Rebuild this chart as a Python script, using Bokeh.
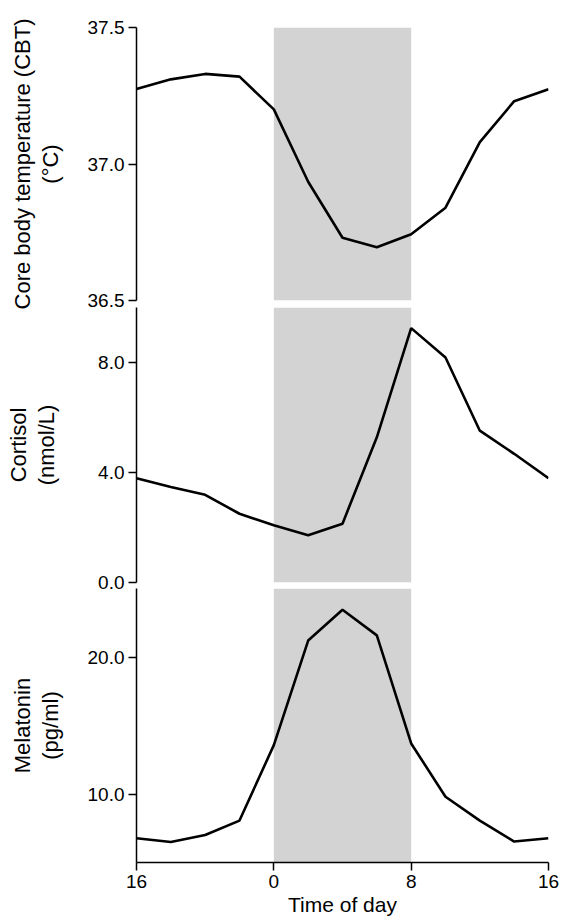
from bokeh.plotting import figure
from bokeh.layouts import column
from bokeh.models import Range1d, FixedTicker, BoxAnnotation
from bokeh.embed import file_html
from bokeh.resources import INLINE

# ---- data ----
hours = [16, 18, 20, 22, 24, 26, 28, 30, 32, 34, 36, 38, 40]
cbt = [37.275, 37.31, 37.33, 37.32, 37.20, 36.935, 36.73, 36.695, 36.743, 36.84, 37.08, 37.23, 37.274]
cortisol = [3.79, 3.47, 3.19, 2.50, 2.08, 1.72, 2.14, 5.28, 9.25, 8.18, 5.52, 4.68, 3.79]
melatonin = [6.77, 6.5, 7.01, 8.06, 13.57, 21.2, 23.45, 21.58, 13.69, 9.8, 8.06, 6.53, 6.77]
x_ticks = [16, 24, 32, 40]
x_tick_labels = ["16", "0", "8", "16"]
night_start, night_end = 24, 32

cbt_ticks = [36.5, 37.0, 37.5]
cortisol_ticks = [0.0, 4.0, 8.0]
melatonin_ticks = [10.0, 20.0]

FONT = "Liberation Sans"
W = 561
LEFT = 136
FRAME_W = 412


def make_panel(y, yr, yticks, ylabel, frame_h, top, bottom, label_standoff,
               with_x=False, margin_top=0):
    p = figure(width=W, height=top + frame_h + bottom,
               x_range=Range1d(16, 40), y_range=Range1d(*yr),
               output_backend="svg", toolbar_location=None,
               min_border_left=LEFT, min_border_right=W - LEFT - FRAME_W,
               min_border_top=top, min_border_bottom=bottom,
               x_axis_location="below" if with_x else None,
               margin=(margin_top, 0, 0, 0))
    p.outline_line_color = None
    p.xgrid.visible = False
    p.ygrid.visible = False
    p.background_fill_alpha = 0
    p.border_fill_alpha = 0

    p.add_layout(BoxAnnotation(left=night_start, right=night_end,
                               fill_color="#d3d3d3", fill_alpha=1.0, line_color=None,
                               level="underlay"))
    p.line(hours, y, line_color="black", line_width=2.6)

    ax = p.yaxis[0]
    ax.ticker = FixedTicker(ticks=yticks)
    ax.major_label_overrides = {t: f"{t:.1f}" for t in yticks}
    ax.axis_label = ylabel
    ax.axis_label_text_font = FONT
    ax.axis_label_text_font_size = "22px"
    ax.axis_label_text_font_style = "normal"
    ax.axis_label_text_color = "black"
    ax.axis_label_text_line_height = 1.12
    ax.axis_label_standoff = label_standoff
    ax.major_label_text_font = FONT
    ax.major_label_text_font_size = "19px"
    ax.major_label_text_color = "black"
    ax.major_label_standoff = 4
    ax.major_tick_out = 8
    ax.major_tick_in = 0
    ax.minor_tick_out = 0
    ax.minor_tick_in = 0
    ax.axis_line_width = 1.5
    ax.major_tick_line_width = 1.5

    if with_x:
        xa = p.xaxis[0]
        xa.ticker = FixedTicker(ticks=x_ticks)
        xa.major_label_overrides = dict(zip(x_ticks, x_tick_labels))
        xa.axis_label = "Time of day"
        xa.axis_label_text_font = FONT
        xa.axis_label_text_font_size = "21px"
        xa.axis_label_text_font_style = "normal"
        xa.axis_label_text_color = "black"
        xa.axis_label_standoff = 2
        xa.major_label_text_font = FONT
        xa.major_label_text_font_size = "19px"
        xa.major_label_text_color = "black"
        xa.major_label_standoff = 4
        xa.major_tick_out = 8
        xa.major_tick_in = 0
        xa.minor_tick_out = 0
        xa.minor_tick_in = 0
        xa.axis_line_width = 1.5
        xa.major_tick_line_width = 1.5
    return p


# frames: panel 1 27..300, panel 2 307..582, panel 3 588..862
p1 = make_panel(cbt, (36.5, 37.5), cbt_ticks, "Core body temperature (CBT)\n(°C)",
                273, 27, 14, 22)
p2 = make_panel(cortisol, (0, 10), cortisol_ticks, "Cortisol\n(nmol/L)",
                275, 14, 14, 36, margin_top=-21)
p3 = make_panel(melatonin, (5, 25), melatonin_ticks, "Melatonin\n(pg/ml)",
                274, 14, 61, 22, with_x=True, margin_top=-22)

layout = column(p1, p2, p3, spacing=0)
open("out.html", "w").write(file_html(layout, INLINE))
